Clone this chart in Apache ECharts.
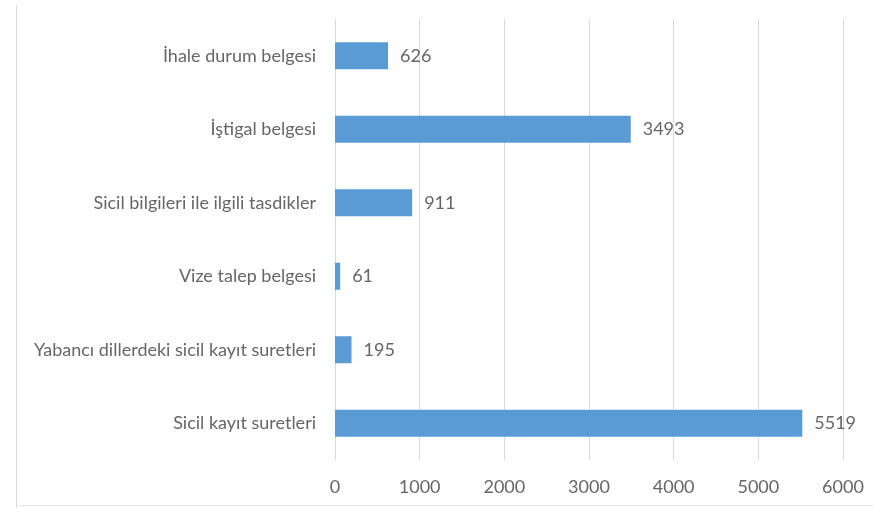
<!DOCTYPE html>
<html>
<head>
<meta charset="utf-8">
<script src="https://cdn.jsdelivr.net/npm/echarts@6/dist/echarts.min.js"></script>
<style>
  html, body { margin: 0; padding: 0; background: #fff; }
  #main { width: 873px; height: 508px; }
</style>
</head>
<body>
<div id="main"></div>
<script>
// veriler
var categories = ['İhale durum belgesi', 'İştigal belgesi', 'Sicil bilgileri ile ilgili tasdikler',
  'Vize talep belgesi', 'Yabancı dillerdeki sicil kayıt suretleri', 'Sicil kayıt suretleri'];
var values = [626, 3493, 911, 61, 195, 5519];

var myChart = echarts.init(document.getElementById('main'));

var option = {
  animation: false,
  textStyle: { fontFamily: 'Lato' },
  graphic: [
    { type: 'line', shape: { x1: 16.5, y1: 5, x2: 16.5, y2: 508 }, style: { stroke: '#d9d9d9', lineWidth: 1 } },
    { type: 'line', shape: { x1: 16, y1: 505.5, x2: 873, y2: 505.5 }, style: { stroke: '#e6e6e6', lineWidth: 1 } }
  ],
  grid: { left: 335, right: 30, top: 19, bottom: 48, containLabel: false },
  xAxis: {
    type: 'value',
    min: 0,
    max: 6000,
    interval: 1000,
    axisLine: { show: false },
    axisTick: { show: false },
    axisLabel: { color: '#666666', fontSize: 18, margin: 18, formatter: function (v) { return String(v); } },
    splitLine: { lineStyle: { color: '#d9d9d9' } }
  },
  yAxis: {
    type: 'category',
    inverse: true,
    data: categories,
    axisLine: { show: false },
    axisTick: { show: false },
    axisLabel: { color: '#666666', fontSize: 18, margin: 19 }
  },
  series: [{
    type: 'bar',
    data: values,
    barWidth: 27,
    itemStyle: { color: '#5b9bd5' },
    label: { show: true, position: 'right', distance: 12, color: '#666666', fontSize: 18 }
  }]
};

myChart.setOption(option);
</script>
</body>
</html>
